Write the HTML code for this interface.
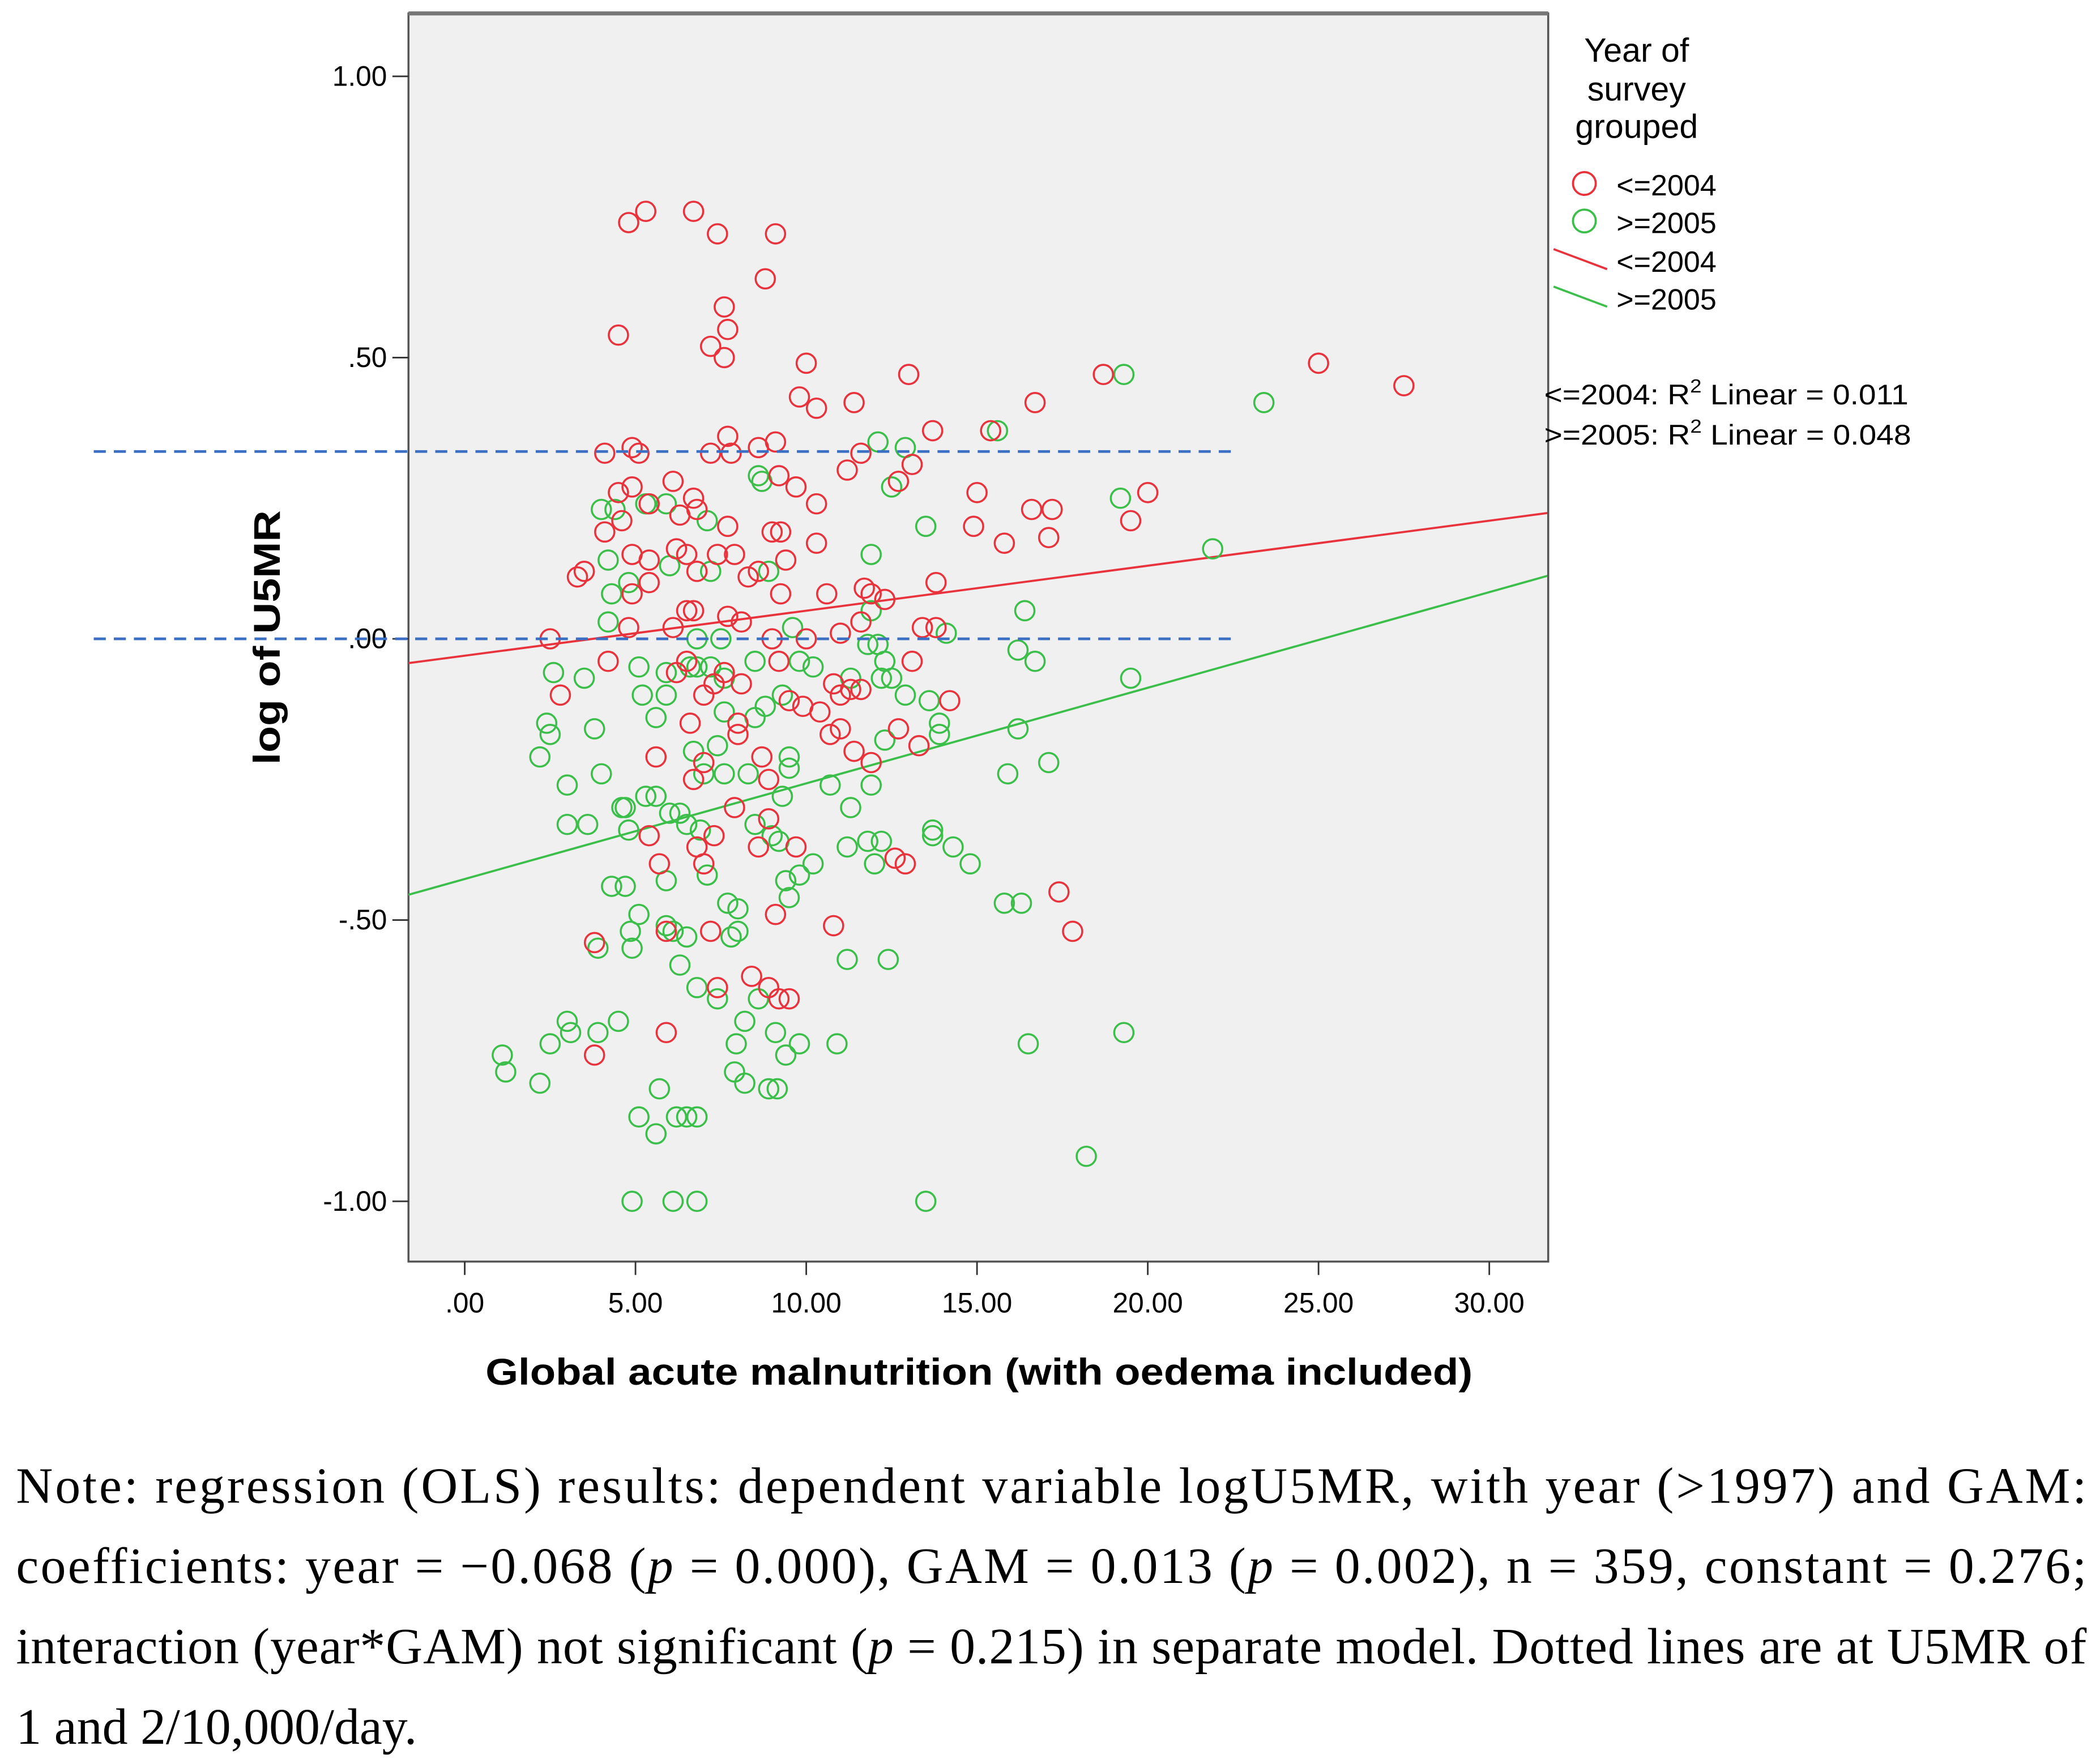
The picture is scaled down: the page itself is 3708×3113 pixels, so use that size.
<!DOCTYPE html>
<html><head><meta charset="utf-8"><style>
html,body{margin:0;padding:0;background:#fff;}
svg{display:block;}
</style></head><body>
<svg id="chart" width="3708" height="3113" viewBox="0 0 1568 1316.4" preserveAspectRatio="none" xmlns="http://www.w3.org/2000/svg">
<rect x="0" y="0" width="1568" height="1316.4" fill="#fff"/>
<rect x="305" y="10" width="851" height="932" fill="#f0f0f0" stroke="#555" stroke-width="1.5"/>
<line x1="305" y1="10" x2="1156" y2="10" stroke="#777" stroke-width="3"/>
<g id="axes"></g>
<g id="marks"></g>
<text transform="translate(209,476) rotate(-90)" text-anchor="middle" font-family="Liberation Sans, sans-serif" font-weight="bold" font-size="28" textLength="190" lengthAdjust="spacingAndGlyphs">log of U5MR</text>
<text x="731" y="1034" text-anchor="middle" font-family="Liberation Sans, sans-serif" font-weight="bold" font-size="28" textLength="737" lengthAdjust="spacingAndGlyphs">Global acute malnutrition (with oedema included)</text>
<g font-family="Liberation Sans, sans-serif" font-size="22">
<text x="1222" y="46" text-anchor="middle" font-size="25">Year of</text>
<text x="1222" y="75" text-anchor="middle" font-size="25">survey</text>
<text x="1222" y="103" text-anchor="middle" font-size="25">grouped</text>
<circle cx="1183" cy="137" r="8.5" fill="none" stroke="#e8333c" stroke-width="1.6"/>
<text x="1207" y="146">&lt;=2004</text>
<circle cx="1183" cy="165" r="8.5" fill="none" stroke="#3cbf4a" stroke-width="1.6"/>
<text x="1207" y="174">&gt;=2005</text>
<line x1="1160" y1="186" x2="1200" y2="201" stroke="#e8333c" stroke-width="1.6"/>
<text x="1207" y="203">&lt;=2004</text>
<line x1="1160" y1="214" x2="1200" y2="229" stroke="#3cbf4a" stroke-width="1.6"/>
<text x="1207" y="231">&gt;=2005</text>
<text x="1153" y="302" font-size="21" textLength="272" lengthAdjust="spacingAndGlyphs">&lt;=2004: R<tspan dy="-9" font-size="14">2</tspan><tspan dy="9"> Linear = 0.011</tspan></text>
<text x="1153" y="332" font-size="21" textLength="274" lengthAdjust="spacingAndGlyphs">&gt;=2005: R<tspan dy="-9" font-size="14">2</tspan><tspan dy="9"> Linear = 0.048</tspan></text>
</g>
<g font-family="Liberation Serif, serif" font-size="38">
<text x="12" y="1122" textLength="1546" lengthAdjust="spacing">Note: regression (OLS) results: dependent variable logU5MR, with year (&gt;1997) and GAM:</text>
<text x="12" y="1182" textLength="1546" lengthAdjust="spacing">coefficients: year = −0.068 (<tspan font-style="italic">p</tspan> = 0.000), GAM = 0.013 (<tspan font-style="italic">p</tspan> = 0.002), n = 359, constant = 0.276;</text>
<text x="12" y="1242" textLength="1546" lengthAdjust="spacing">interaction (year*GAM) not significant (<tspan font-style="italic">p</tspan> = 0.215) in separate model. Dotted lines are at U5MR of</text>
<text x="12" y="1302">1 and 2/10,000/day.</text>
</g>
</svg>
<script>
const xTicks=[0,5,10,15,20,25,30];
const xTickLabels=[".00","5.00","10.00","15.00","20.00","25.00","30.00"];
const yTicks=[1,0.5,0,-0.5,-1];
const yTickLabels=["1.00",".50",".00","-.50","-1.00"];
const red_x=[4.8,5.3,6.7,7.4,9.1,8.8,7.6,7.7,4.5,7.2,7.6,10,13,18.7,25,27.5,9.8,10.3,11.4,16.7,15.4,13.7,13.1,7.7,8.6,9.1,4.1,4.9,5.1,7.2,7.8,11.6,11.2,12.7,6.1,9.2,4.9,9.7,4.5,6.7,15,20,10.3,16.6,17.2,5.4,6.3,6.8,4.1,4.6,7.7,9,9.25,14.9,19.5,15.8,17.1,10.3,4.9,6.2,6.5,7.9,7.4,9.4,5.4,6.8,3.3,3.5,8.3,8.6,5.4,13.8,11.7,11.9,4.9,9.25,10.6,12.3,6.5,6.7,7.7,8.1,11.6,13.4,13.8,4.8,6.1,9,2.5,10,11,4.2,6.5,9.2,13.1,6.2,7.6,7.3,8.1,10.8,11.6,2.8,7.0,11,11.3,14.2,9.5,9.9,10.4,6.6,8.0,10.7,11,8.0,12.7,11.4,13.3,11.9,5.6,7,8.7,8.9,6.7,7.9,8.9,5.4,7.3,8.6,9.7,6.8,5.7,7,12.6,12.9,9.1,10.8,17.4,17.8,5.9,7.2,3.8,8.4,8.9,9.2,9.5,7.4,5.9,3.8];
const red_y=[.74,.76,.76,.72,.72,.64,.59,.55,.54,.52,.50,.49,.47,.47,.49,.45,.43,.41,.42,.42,.37,.37,.31,.36,.34,.35,.33,.34,.33,.33,.33,.33,.30,.28,.28,.29,.27,.27,.26,.25,.26,.26,.24,.23,.23,.24,.22,.23,.19,.21,.20,.19,.19,.20,.21,.17,.18,.17,.15,.16,.15,.15,.15,.14,.14,.12,.11,.12,.11,.12,.10,.10,.09,.08,.08,.08,.08,.07,.05,.05,.04,.03,.03,.02,.02,.02,.02,0,0,0,.01,-.04,-.04,-.04,-.04,-.06,-.06,-.08,-.08,-.08,-.09,-.10,-.10,-.10,-.09,-.11,-.11,-.12,-.13,-.15,-.15,-.17,-.16,-.17,-.16,-.20,-.19,-.22,-.21,-.22,-.21,-.25,-.25,-.30,-.32,-.35,-.35,-.37,-.37,-.37,-.40,-.40,-.39,-.40,-.49,-.51,-.45,-.52,-.52,-.52,-.54,-.60,-.62,-.64,-.64,-.62,-.70,-.74];
const green_x=[19.3,23.4,12.1,12.9,15.6,8.6,8.7,12.5,19.2,4,4.4,5.3,5.9,7.1,13.5,21.9,4.2,11.9,6,7.2,8.9,4.3,4.8,11.9,16.4,4.2,9.6,6.8,7.5,11.8,12.1,14.1,16.2,16.7,5.1,6.6,7.2,8.5,9.8,10.2,12.3,2.6,3.5,5.9,6.8,7.6,12.2,12.5,19.5,5.2,5.9,9.3,11.3,12.9,13.6,5.6,8.5,8.8,2.4,2.5,3.8,7.6,13.9,13.9,16.2,12.3,2.2,6.7,7.4,9.5,9.5,17.1,3,4,7,7.6,8.3,9.3,10.7,11.9,15.9,5.3,5.6,4.6,4.7,6.0,6.3,11.3,3,3.6,4.8,6.5,6.9,8.5,9,9.2,13.7,13.7,11.2,11.8,12.2,14.3,14.8,12,10.2,4.3,4.7,5.9,7.1,9.4,9.8,7.7,8.0,9.5,15.8,16.3,5.1,4.85,4.9,3.9,5.9,6.1,6.5,8.0,7.8,11.2,12.4,6.3,6.8,7.4,8.6,8.2,3,3.1,3.9,4.5,9.1,9.8,10.9,16.5,19.3,7.95,2.5,1.1,1.2,9.4,7.9,2.2,5.7,8.2,8.9,9.15,5.1,6.2,6.5,6.8,5.6,18.2,4.9,6.1,6.8,13.5];
const green_y=[.47,.42,.35,.34,.37,.29,.28,.27,.25,.23,.23,.24,.24,.21,.20,.16,.14,.15,.13,.12,.12,.08,.10,.05,.05,.03,.02,0,0,-.01,-.01,.01,-.02,-.04,-.05,-.05,-.05,-.04,-.04,-.05,-.04,-.06,-.07,-.06,-.05,-.07,-.07,-.07,-.07,-.10,-.10,-.10,-.07,-.10,-.11,-.14,-.14,-.12,-.15,-.17,-.16,-.13,-.15,-.17,-.16,-.18,-.21,-.20,-.19,-.21,-.23,-.22,-.26,-.24,-.24,-.24,-.24,-.28,-.26,-.26,-.24,-.28,-.28,-.30,-.30,-.31,-.31,-.30,-.33,-.33,-.34,-.33,-.34,-.33,-.35,-.36,-.34,-.35,-.37,-.36,-.36,-.37,-.40,-.40,-.40,-.44,-.44,-.43,-.42,-.43,-.42,-.47,-.48,-.46,-.47,-.47,-.49,-.52,-.55,-.55,-.51,-.52,-.53,-.52,-.53,-.57,-.57,-.58,-.62,-.64,-.64,-.68,-.68,-.70,-.70,-.68,-.70,-.72,-.72,-.72,-.70,-.72,-.72,-.74,-.77,-.74,-.77,-.79,-.80,-.79,-.80,-.80,-.85,-.85,-.85,-.85,-.88,-.92,-1,-1,-1,-1];
const fitIntercept=[-0.030,-0.427];
const fitSlope=[0.0080,0.0170];
const refLines=[0.333,0.0];

const NS="http://www.w3.org/2000/svg";
const X=v=>347+v*25.5;
const Y=v=>477-v*420;
const axes=document.getElementById('axes');
const marks=document.getElementById('marks');
function mk(tag,attrs,parent){const e=document.createElementNS(NS,tag);for(const k in attrs)e.setAttribute(k,attrs[k]);parent.appendChild(e);return e;}
xTicks.forEach((t,i)=>{
  const l=mk('line',{x1:X(t),x2:X(t),y1:942,y2:952,stroke:'#333','stroke-width':1.2},axes);
  
  
  const tx=mk('text',{x:X(t),y:980,'text-anchor':'middle','font-family':'Liberation Sans, sans-serif','font-size':21},axes);
  tx.textContent=xTickLabels[i];
  
  
});
yTicks.forEach((t,i)=>{
  const l=mk('line',{x1:293,x2:305,y1:Y(t),y2:Y(t),stroke:'#333','stroke-width':1.2},axes);
  
  
  const tx=mk('text',{x:289,y:Y(t)+7,'text-anchor':'end','font-family':'Liberation Sans, sans-serif','font-size':21},axes);
  tx.textContent=yTickLabels[i];
  
  
});
const cols=['#e8333c','#3cbf4a'];
[0,1].forEach(k=>{
  const x0=-1.65,x1=31.7;
  const l=mk('line',{x1:X(x0),x2:X(x1),y1:Y(fitIntercept[k]+fitSlope[k]*x0),y2:Y(fitIntercept[k]+fitSlope[k]*x1),stroke:cols[k],'stroke-width':1.6},marks);
  
  
});
function pts(xs,ys,c,name){
  xs.forEach((x,i)=>{
    const e=mk('circle',{cx:X(x),cy:Y(ys[i]),r:7.2,fill:'none',stroke:c,'stroke-width':1.5},marks);
    
    
  });
}
pts(green_x,green_y,cols[1],'point-2005');
pts(red_x,red_y,cols[0],'point-2004');
refLines.forEach(v=>{
  const l=mk('line',{x1:70,x2:922,y1:Y(v),y2:Y(v),stroke:'#3a6fc4','stroke-width':2,'stroke-dasharray':'9,6'},marks);
  
  
});
</script>
</body></html>
